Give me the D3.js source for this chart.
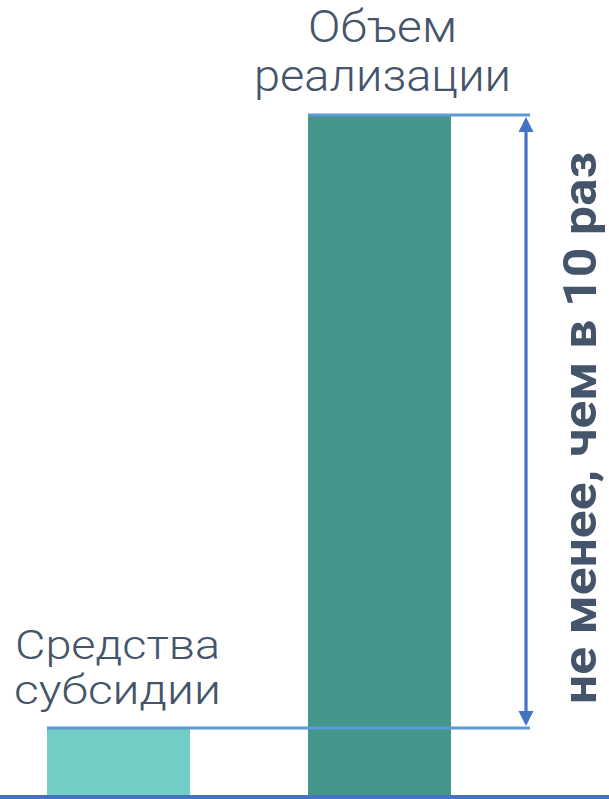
<!DOCTYPE html>
<html>
<head>
<meta charset="utf-8">
<script src="https://cdn.jsdelivr.net/npm/d3@7"></script>
<style>
  html, body { margin: 0; padding: 0; background: #fff; }
  svg { display: block; }
</style>
</head>
<body>
<svg id="chart" width="609" height="799"></svg>
<script>
// ---- data ----
const categories = ["Средства субсидии", "Объем реализации"];
const labelLines = [["Средства", "субсидии"], ["Объем", "реализации"]];
const values = [1, 10.15];
const barColors = ["#72CDC4", "#44958A"];
const ratioText = "не менее, чем в 10 раз";

// ---- layout ----
const W = 609, H = 799;
const baseY = 795;
const svg = d3.select("#chart");

const x = d3.scaleBand()
  .domain(categories)
  .range([47, 451])
  .paddingInner(0.452)
  .paddingOuter(0);

const y = d3.scaleLinear()
  .domain([0, d3.max(values)])
  .range([baseY, 115]);

const data = categories.map((c, i) => ({ c, v: values[i], color: barColors[i], lines: labelLines[i] }));

// bars
svg.selectAll("rect.bar")
  .data(data)
  .join("rect")
  .attr("class", "bar")
  .attr("x", d => x(d.c))
  .attr("width", x.bandwidth())
  .attr("y", d => y(d.v))
  .attr("height", d => baseY - y(d.v))
  .attr("fill", d => d.color);

// reference lines at bar tops
const arrowX = 526;
const lineEnd = 530;
svg.selectAll("line.ref")
  .data(data)
  .join("line")
  .attr("class", "ref")
  .attr("x1", d => x(d.c))
  .attr("x2", lineEnd)
  .attr("y1", d => y(d.v))
  .attr("y2", d => y(d.v))
  .attr("stroke", "#5B9BD5")
  .attr("stroke-width", 3);

// baseline
svg.append("line")
  .attr("x1", 0).attr("x2", W)
  .attr("y1", baseY + 2).attr("y2", baseY + 2)
  .attr("stroke", "#4472C4")
  .attr("stroke-width", 4);

// double arrow
const yTop = y(values[1]) + 2, yBot = y(values[0]) - 2;
const ah = 15, aw = 7.5;
svg.append("line")
  .attr("x1", arrowX).attr("x2", arrowX)
  .attr("y1", yTop + ah - 1).attr("y2", yBot - ah + 1)
  .attr("stroke", "#4472C4")
  .attr("stroke-width", 3.2);
svg.append("path")
  .attr("d", `M${arrowX},${yTop} L${arrowX + aw},${yTop + ah} L${arrowX - aw},${yTop + ah} Z`)
  .attr("fill", "#4472C4");
svg.append("path")
  .attr("d", `M${arrowX},${yBot} L${arrowX + aw},${yBot - ah} L${arrowX - aw},${yBot - ah} Z`)
  .attr("fill", "#4472C4");

// category labels (one text element per category, one tspan per line)
const lineWidths = [[205, 207], [149, 257]];
const lineGap = [45, 49];
const labelSize = [41, 44];
data.forEach((d, i) => {
  const cx = x(d.c) + x.bandwidth() / 2 + (i === 1 ? 3 : -1);
  const bottomBase = y(d.v) - 24;
  const t = svg.append("text")
    .attr("text-anchor", "middle")
    .attr("font-family", "Roboto, 'Noto Sans', 'DejaVu Sans', sans-serif")
    .attr("font-size", labelSize[i])
    .attr("font-weight", 300)
    .attr("fill", "#44546A");
  d.lines.forEach((s, j) => {
    const by = bottomBase - (d.lines.length - 1 - j) * lineGap[i];
    t.append("tspan")
      .attr("x", cx)
      .attr("y", by)
      .attr("textLength", lineWidths[i][j])
      .attr("lengthAdjust", "spacingAndGlyphs")
      .text(s);
  });
});

// rotated ratio text
const midY = (152 + 704) / 2;
svg.append("text")
  .attr("transform", `translate(596,${midY}) rotate(-90)`)
  .attr("text-anchor", "middle")
  .attr("font-family", "Roboto, 'Noto Sans', 'DejaVu Sans', sans-serif")
  .attr("font-size", 47)
  .attr("font-weight", 700)
  .attr("fill", "#44546A")
  .attr("textLength", 552)
  .attr("lengthAdjust", "spacingAndGlyphs")
  .text(ratioText);
</script>
</body>
</html>
